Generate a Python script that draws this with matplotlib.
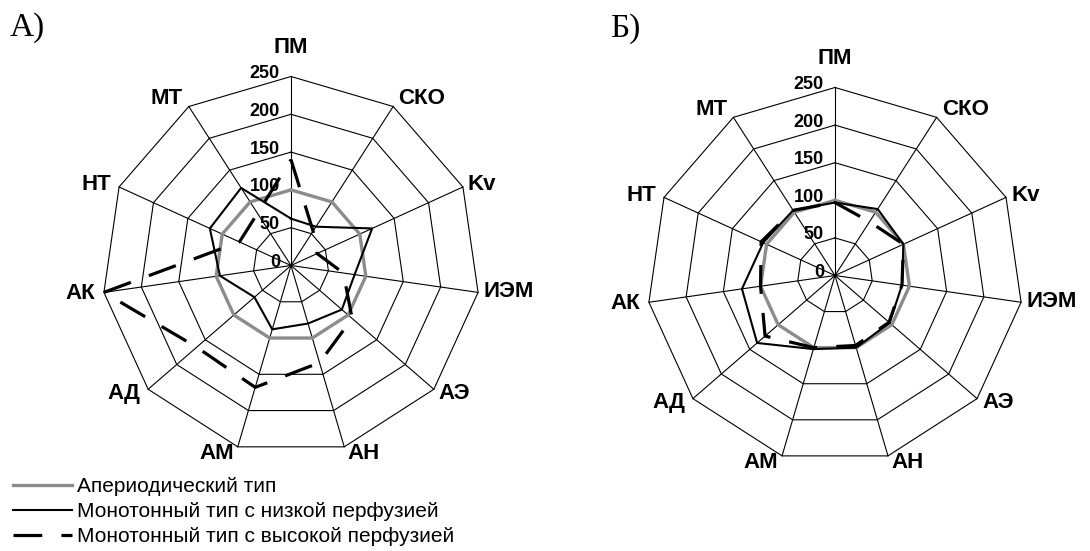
import numpy as np
import matplotlib
matplotlib.use('Agg')
import matplotlib.pyplot as plt
from matplotlib.lines import Line2D

# ---------------- data ----------------
categories = ['ПМ', 'СКО', 'Kv', 'ИЭМ', 'АЭ', 'АН', 'АМ', 'АД', 'АК', 'НТ', 'МТ']
r_ticks = [0, 50, 100, 150, 200, 250]
series_names = ['Апериодический тип',
                'Монотонный тип с низкой перфузией',
                'Монотонный тип с высокой перфузией']

aperiodic_A = [100, 100, 100, 100, 100, 100, 100, 100, 100, 100, 100]
low_perf_A = [62, 61, 118, 85, 89, 80, 88, 64, 95, 118, 122]
high_perf_A = [140, 54, 38, 70, 107, 134, 168, 165, 250, 75, 82]

aperiodic_B = [100, 100, 100, 100, 100, 100, 100, 100, 100, 100, 100]
low_perf_B = [97, 105, 100, 90, 96, 100, 102, 137, 125, 105, 103]
high_perf_B = [97, 85, 100, 90, 95, 97, 100, 123, 100, 108, 103]

panel_titles = ['А)', 'Б)']

# ---------------- style / layout ----------------
plt.rcParams['font.family'] = ['Liberation Sans', 'DejaVu Sans']
W, H = 1090, 551
fig = plt.figure(figsize=(W / 100, H / 100), dpi=100)

GRAY = '#8c8c8c'
PX = 0.72  # points per pixel

# label placement (ha, dx px, dy px; screen y downwards)
label_layout = [('center', 0, -29), ('left', 5, -8), ('left', 5, -2),
                ('left', 5, -1), ('left', 5, 4), ('left', 3, 7),
                ('right', -4, 7), ('right', -8, 4), ('right', -9, 1),
                ('right', -8, -2), ('right', -6, -8)]


def radar(cx, cy, R, series):
    ax = fig.add_axes([(cx - R) / W, (H - cy - R) / H, 2 * R / W, 2 * R / H],
                      projection='polar')
    ax.set_theta_zero_location('N')
    ax.set_theta_direction(-1)
    ax.set_ylim(0, r_ticks[-1])
    ax.grid(False)
    ax.set_xticks([])
    ax.set_yticks([])
    ax.spines['polar'].set_visible(False)
    ax.patch.set_visible(False)

    n = len(categories)
    theta = np.arange(n) * 2 * np.pi / n
    th_c = np.append(theta, theta[0])

    for r in r_ticks[1:]:
        ax.plot(th_c, [r] * (n + 1), color='black', lw=0.8, clip_on=False, zorder=1)
    for th in theta:
        ax.plot([th, th], [0, r_ticks[-1]], color='black', lw=0.8, clip_on=False, zorder=1)

    aper, low, high = series
    ax.plot(th_c, list(aper) + [aper[0]], color=GRAY, lw=2.4, clip_on=False, zorder=3)
    ax.plot(th_c, list(low) + [low[0]], color='black', lw=1.5, clip_on=False, zorder=4)
    ax.plot(th_c, list(high) + [high[0]], color='black', lw=2.3, dashes=(9.0, 6.0),
            clip_on=False, zorder=5)

    for r in r_ticks:
        ax.annotate(str(r), xy=(0, r), xytext=(-11 * PX, 3 * PX),
                    textcoords='offset points', ha='right', va='center',
                    fontsize=13, fontweight='bold', annotation_clip=False, zorder=6)

    for th, lab, (ha, dx, dy) in zip(theta, categories, label_layout):
        ax.annotate(lab, xy=(th, r_ticks[-1]), xytext=(dx * PX, -dy * PX),
                    textcoords='offset points', ha=ha, va='center',
                    fontsize=16, fontweight='bold', annotation_clip=False)
    return ax


radar(291, 265.5, 189, (aperiodic_A, low_perf_A, high_perf_A))
radar(835, 275.5, 188, (aperiodic_B, low_perf_B, high_perf_B))

fig.text(10 / W, 1 - 36 / H, panel_titles[0], family='Liberation Serif', fontsize=24,
         ha='left', va='baseline')
fig.text(610 / W, 1 - 37 / H, panel_titles[1], family='Liberation Serif', fontsize=24,
         ha='left', va='baseline')

handles = [Line2D([], [], color=GRAY, lw=2.4),
           Line2D([], [], color='black', lw=1.5),
           Line2D([], [], color='black', lw=2.3, dashes=(9.0, 6.0))]
fig.legend(handles, series_names, loc='upper left',
           bbox_to_anchor=(13 / W, 1 - 477 / H), frameon=False, fontsize=15,
           handlelength=2.83, handletextpad=0.24, labelspacing=0.3,
           borderpad=0, borderaxespad=0)

fig.savefig('out.png', dpi=100)
